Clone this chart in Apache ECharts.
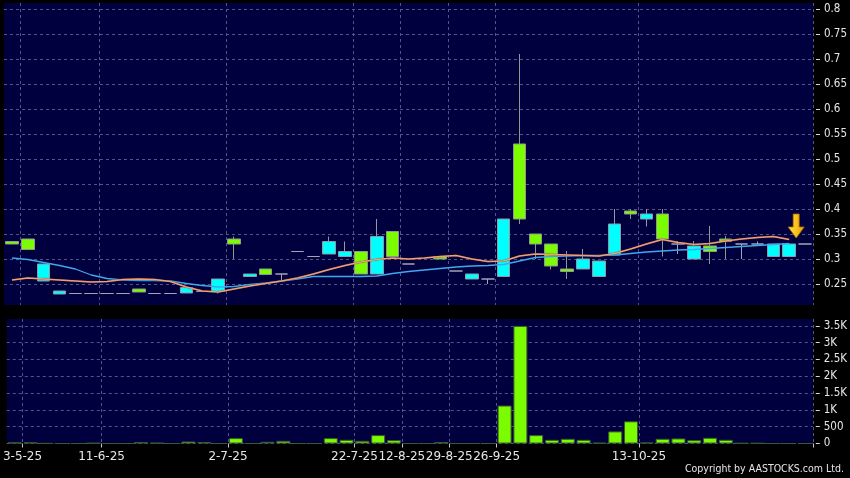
<!DOCTYPE html>
<html>
<head>
<meta charset="utf-8">
<script src="https://cdn.jsdelivr.net/npm/echarts@6/dist/echarts.min.js"></script>
<style>
html,body{margin:0;padding:0;background:#000;}
#chart{width:850px;height:478px;}
</style>
</head>
<body>
<div id="chart"></div>
<script>
// ---- data ----
const openP  = [0.335,0.34,0.256,0.23,0.231,0.231,0.231,0.231,0.24,0.231,0.231,0.232,0.235,0.235,0.34,0.265,0.28,0.27,0.315,0.305,0.31,0.305,0.315,0.27,0.355,0.29,'-',0.305,0.276,0.26,0.26,0.265,0.53,0.35,0.33,0.28,0.28,0.265,0.308,0.396,0.38,0.39,0.33,0.30,0.326,0.34,0.33,0.33,0.305,0.305,0.33];
const closeP = [0.33,0.319,0.29,0.236,0.231,0.231,0.231,0.231,0.234,0.231,0.231,0.243,0.235,0.26,0.33,0.27,0.269,0.27,0.315,0.305,0.335,0.315,0.27,0.345,0.305,0.29,'-',0.30,0.276,0.27,0.26,0.38,0.38,0.33,0.286,0.275,0.30,0.296,0.37,0.39,0.39,0.34,0.33,0.326,0.315,0.335,0.33,0.33,0.33,0.33,0.33];
const lowP   = [0.33,0.319,0.256,0.23,0.231,0.231,0.231,0.231,0.234,0.231,0.231,0.232,0.235,0.231,0.30,0.265,0.269,0.258,0.315,0.305,0.31,0.305,0.27,0.27,0.305,0.29,'-',0.30,0.276,0.26,0.25,0.265,0.37,0.30,0.279,0.26,0.28,0.265,0.308,0.38,0.365,0.305,0.31,0.30,0.29,0.30,0.30,0.33,0.305,0.305,0.33];
const highP  = [0.335,0.34,0.29,0.236,0.231,0.231,0.231,0.231,0.24,0.231,0.231,0.243,0.235,0.26,0.345,0.27,0.28,0.27,0.315,0.305,0.345,0.335,0.315,0.38,0.355,0.29,'-',0.305,0.276,0.27,0.26,0.38,0.71,0.35,0.33,0.316,0.32,0.296,0.40,0.40,0.40,0.40,0.336,0.336,0.366,0.346,0.33,0.335,0.33,0.33,0.33];
const maShort = [0.258,0.262,0.26,0.258,0.256,0.254,0.255,0.259,0.26,0.259,0.255,0.244,0.236,0.234,0.24,0.246,0.251,0.256,0.262,0.27,0.279,0.287,0.294,0.299,0.302,0.30,0.302,0.305,0.307,0.30,0.295,0.296,0.306,0.31,0.309,0.308,0.307,0.306,0.311,0.32,0.33,0.339,0.333,0.329,0.331,0.336,0.34,0.343,0.345,0.339,'-'];
const maLong  = [0.302,0.299,0.293,0.287,0.28,0.268,0.261,0.258,0.257,0.257,0.256,0.251,0.247,0.244,0.245,0.249,0.252,0.256,0.26,0.265,0.265,0.265,0.265,0.266,0.271,0.275,0.278,0.281,0.284,0.286,0.287,0.289,0.296,0.303,0.305,0.306,0.307,0.307,0.308,0.311,0.314,0.316,0.318,0.319,0.321,0.323,0.325,0.327,0.329,0.331,'-'];
const volume  = [35,35,5,0,0,15,0,0,40,20,0,60,40,0,160,0,50,80,0,0,160,110,80,250,100,0,0,40,0,0,0,1130,3500,250,110,140,110,20,360,660,30,140,150,100,170,110,10,10,0,0,0];
const tickIndex = [1,6,14,22,25,28,31,40];
const tickText  = ['3-5-25','11-6-25','2-7-25','22-7-25','12-8-25','29-8-25','26-9-25','13-10-25'];
const priceTicks  = [0.25,0.3,0.35,0.4,0.45,0.5,0.55,0.6,0.65,0.7,0.75,0.8];
const volumeTicks = [0,500,1000,1500,2000,2500,3000,3500];

// ---- build ----
const categories = openP.map((_, i) => {
  const k = tickIndex.indexOf(i);
  return k >= 0 ? tickText[k] : 'd' + i;
});
const candles = openP.map((o, i) => [o, closeP[i], lowP[i], highP[i]]);
const isTick = (idx) => tickIndex.indexOf(idx) >= 0;

const FONT = 'DejaVu Sans';
const FONT_C = '"DejaVu Sans Condensed", "DejaVu Sans"';
const gridLine = { show: true, interval: isTick, lineStyle: { color: '#54548a', type: [3, 3], width: 1 } };
const hGridLine = { show: true, lineStyle: { color: '#54548a', type: [3, 3], width: 1 } };
const band = 810 / categories.length;

const chart = echarts.init(document.getElementById('chart'), null, { renderer: 'canvas' });
chart.setOption({
  animation: false,
  backgroundColor: '#000000',
  grid: [
    { left: 4, right: 36, top: 3, height: 302, show: true, backgroundColor: '#00003f', borderWidth: 0 },
    { left: 4, right: 36, top: 319, height: 124.5, show: true, backgroundColor: '#00003f', borderWidth: 0 }
  ],
  xAxis: [
    { type: 'category', gridIndex: 0, data: categories, boundaryGap: true,
      axisLine: { show: false }, axisTick: { show: false }, axisLabel: { show: false },
      splitLine: gridLine },
    { type: 'category', gridIndex: 1, data: categories, boundaryGap: true,
      axisLine: { show: false },
      axisTick: { show: true, interval: isTick, length: 4, lineStyle: { color: '#c8c8c8' } },
      axisLabel: { show: true, interval: isTick, color: '#e6e6e6', fontFamily: FONT, fontSize: 12, margin: 7,
        align: 'center', padding: [0, band, 0, 0],
        formatter: (v) => v },
      splitLine: gridLine }
  ],
  yAxis: [
    { type: 'value', gridIndex: 0, position: 'right', min: 0.208, max: 0.812, offset: 3,
      axisLine: { show: false },
      axisTick: { show: true, length: 4, customValues: priceTicks, lineStyle: { color: '#d8d8d8' } },
      axisLabel: { color: '#e6e6e6', fontFamily: FONT_C, fontSize: 11.5, margin: 8, customValues: priceTicks },
      splitLine: hGridLine },
    { type: 'value', gridIndex: 1, position: 'right', min: 0, max: 3705, offset: 3,
      axisLine: { show: false },
      axisTick: { show: true, length: 4, customValues: volumeTicks, lineStyle: { color: '#d8d8d8' } },
      axisLabel: { color: '#e6e6e6', fontFamily: FONT_C, fontSize: 11.5, margin: 8, customValues: volumeTicks,
        formatter: (v) => v >= 1000 ? (v / 1000) + 'K' : String(v) },
      splitLine: hGridLine }
  ],
  series: [
    { type: 'candlestick', xAxisIndex: 0, yAxisIndex: 0, data: candles, barWidth: 13,
      itemStyle: { color: '#00ffff', color0: '#7cfc00', borderColor: '#8e9aa6', borderColor0: '#8e9a8a',
        borderColorDoji: '#a4a4b4', borderWidth: 1 },
      markPoint: {
        symbol: 'path://M5,0 L11,0 L11,13 L16,13 L8,24 L0,13 L5,13 Z',
        symbolSize: [16, 24], symbolOffset: [7, 0], silent: true,
        label: { show: false },
        itemStyle: { color: new echarts.graphic.LinearGradient(0, 0, 1, 0, [
            { offset: 0, color: '#ffe640' }, { offset: 1, color: '#f0a000' }]),
          borderColor: '#b07000', borderWidth: 0.8 },
        data: [{ coord: [categories[49], 0.366] }]
      } },
    { type: 'line', xAxisIndex: 0, yAxisIndex: 0, data: maLong, symbol: 'none',
      lineStyle: { color: '#3fa8ee', width: 1.3 } },
    { type: 'line', xAxisIndex: 0, yAxisIndex: 0, data: maShort, symbol: 'none',
      lineStyle: { color: '#eba07c', width: 1.5, shadowColor: '#6a2a1a', shadowBlur: 1 } },
    { type: 'bar', xAxisIndex: 1, yAxisIndex: 1, data: volume, barWidth: 14,
      itemStyle: { color: '#7cfc00', borderColor: '#3a5a2a', borderWidth: 1 } }
  ],
  graphic: [
    { type: 'text', right: 6, bottom: 3,
      style: { text: 'Copyright by AASTOCKS.com Ltd.', fill: '#e6e6e6', font: '10.5px ' + FONT_C } }
  ]
});
</script>
</body>
</html>
